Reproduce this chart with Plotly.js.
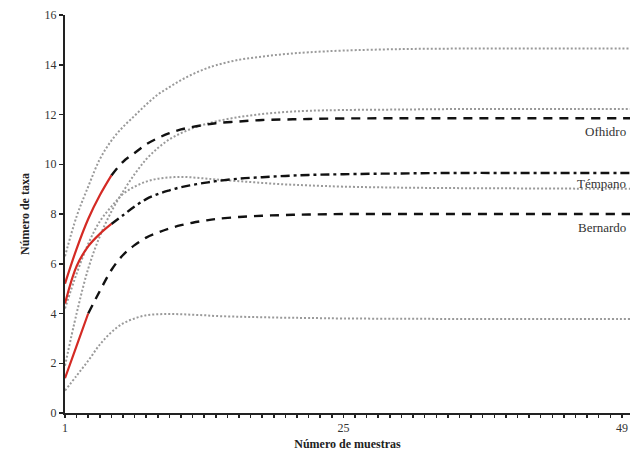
<!DOCTYPE html>
<html>
<head>
<meta charset="utf-8">
<script src="https://cdn.plot.ly/plotly-3.0.1.min.js"></script>
<style>html,body{margin:0;padding:0;background:#fff;}#chart{width:630px;height:451px;}</style>
</head>
<body>
<div id="chart"></div>
<script>
// shared sample grid for extrapolated curves and confidence limits
var samples = [1,2,3,4,5,6,7,8,9,10,11,12,13,14,16,18,20,22,25,30,35,40,45,50];

// Ofhidro
var ofhidroObsX = [1,2,3,4,5];
var ofhidroObsY = [5.2,6.6,7.8,8.75,9.55];
var ofhidroExtX = [5,6,7,8,9,10,11,12,13,14,16,18,20,22,25,30,35,40,45,50];
var ofhidroExtY = [9.55,10.1,10.45,10.8,11.05,11.25,11.4,11.5,11.58,11.65,11.72,11.78,11.8,11.82,11.84,11.85,11.85,11.85,11.85,11.85];
var ofhidroUpper = [6.3,7.9,9.1,10.2,10.95,11.5,11.95,12.4,12.8,13.1,13.38,13.62,13.82,13.98,14.2,14.33,14.43,14.5,14.57,14.63,14.65,14.65,14.65,14.65];
var ofhidroLower = [4.2,5.6,6.8,7.7,8.3,8.8,9.1,9.3,9.42,9.47,9.49,9.47,9.43,9.39,9.32,9.25,9.19,9.15,9.1,9.06,9.04,9.03,9.02,9.02];

// Témpano
var tempanoObsX = [1,2,3,4,5];
var tempanoObsY = [4.4,5.9,6.7,7.2,7.6];
var tempanoExtX = [5,6,7,8,9,10,11,12,13,14,16,18,20,22,25,30,35,40,45,50];
var tempanoExtY = [7.6,7.95,8.3,8.6,8.8,8.95,9.08,9.17,9.25,9.32,9.42,9.48,9.53,9.57,9.6,9.63,9.65,9.65,9.65,9.65];

// Bernardo
var bernardoObsX = [1,2,3];
var bernardoObsY = [1.4,2.7,4.0];
var bernardoExtX = [3,4,5,6,7,8,9,10,11,12,13,14,16,18,20,22,25,30,35,40,45,50];
var bernardoExtY = [4.0,4.9,5.75,6.35,6.75,7.05,7.25,7.42,7.55,7.65,7.73,7.8,7.88,7.93,7.96,7.98,8.0,8.0,8.0,8.0,8.0,8.0];
var bernardoUpper = [1.9,4.0,5.8,7.1,8.1,8.9,9.6,10.2,10.65,11.0,11.25,11.45,11.6,11.72,11.9,12.02,12.1,12.15,12.18,12.2,12.22,12.22,12.22,12.22];
var bernardoLower = [0.9,1.5,2.1,2.75,3.25,3.6,3.8,3.93,3.97,3.98,3.97,3.95,3.93,3.9,3.87,3.85,3.83,3.82,3.8,3.79,3.78,3.78,3.78,3.78];

var curveNames = ["Ofhidro","Témpano","Bernardo"];

var xTickVals = [];
var xTickText = [];
for (var i = 1; i <= 50; i++) { xTickVals.push(i); xTickText.push(""); }
var xLabelled = [1,25,49];
xLabelled.forEach(function(v){ xTickText[v-1] = String(v); });
var yTickVals = [0,2,4,6,8,10,12,14,16];

var red = "#d42a24";
var dotGrey = "#9a9a9a";
function dotted(y){ return {x: samples, y: y, mode:"lines", line:{color:dotGrey, width:2, dash:"2px,2px", shape:"spline"}, hoverinfo:"skip"}; }
function solid(x,y){ return {x:x, y:y, mode:"lines", line:{color:red, width:2.2, shape:"spline"}, hoverinfo:"skip"}; }

var traces = [
  dotted(ofhidroUpper), dotted(ofhidroLower), dotted(bernardoUpper), dotted(bernardoLower),
  {x: ofhidroExtX, y: ofhidroExtY, mode:"lines", line:{color:"#111", width:2.4, dash:"9px,7px", shape:"spline"}},
  {x: tempanoExtX, y: tempanoExtY, mode:"lines", line:{color:"#111", width:2.4, dash:"9px,4px,3px,4px", shape:"spline"}},
  {x: bernardoExtX, y: bernardoExtY, mode:"lines", line:{color:"#111", width:2.4, dash:"9px,7px", shape:"spline"}},
  solid(ofhidroObsX, ofhidroObsY), solid(tempanoObsX, tempanoObsY), solid(bernardoObsX, bernardoObsY)
];

var serif = "Liberation Serif, Times New Roman, serif";
var labelY = [11.33, 9.22, 7.45];
var annotations = curveNames.map(function(n, i){
  return {x: 0.997, y: labelY[i], xref:"paper", yref:"y", text:n, showarrow:false, xanchor:"right", yanchor:"middle",
          font:{family:serif, size:13, color:"#333"}};
});

var layout = {
  width:630, height:451,
  margin:{l:65, r:0, t:15, b:38},
  paper_bgcolor:"#fff", plot_bgcolor:"#fff",
  showlegend:false,
  xaxis:{range:[1,49.7], tickmode:"array", tickvals:xTickVals, ticktext:xTickText, ticks:"outside", ticklen:3, tickwidth:1.5, tickcolor:"#222",
         showline:true, linecolor:"#222", linewidth:2, showgrid:false, zeroline:false,
         tickfont:{family:serif, size:12, color:"#333"},
         title:{text:"<b>Número de muestras</b>", font:{family:serif, size:12, color:"#222"}, standoff:8}},
  yaxis:{range:[0,16], tickmode:"array", tickvals:yTickVals, ticks:"outside", ticklen:4, tickwidth:1.5, tickcolor:"#222",
         showline:true, linecolor:"#222", linewidth:2, showgrid:false, zeroline:false,
         tickfont:{family:serif, size:12, color:"#333"},
         title:{text:"<b>Número de taxa</b>", font:{family:serif, size:12, color:"#222"}, standoff:12}},
  annotations: annotations
};

Plotly.newPlot("chart", traces, layout, {displayModeBar:false, staticPlot:true});
</script>
</body>
</html>
